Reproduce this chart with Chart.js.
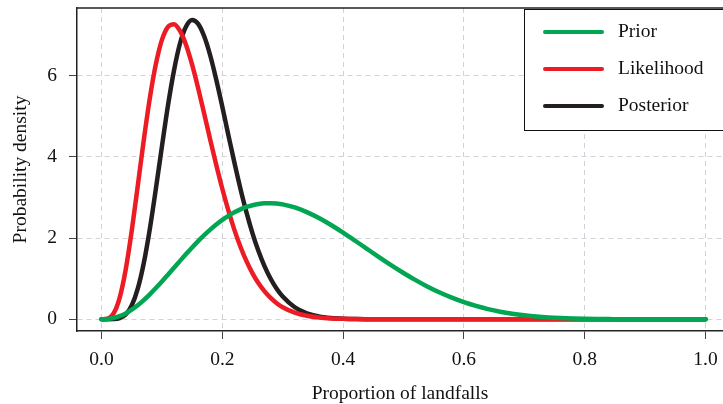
<!DOCTYPE html>
<html>
<head>
<meta charset="utf-8">
<script src="https://cdn.jsdelivr.net/npm/chart.js@4/dist/chart.umd.min.js"></script>
<style>
  html, body { margin: 0; padding: 0; background: #fff; }
  #wrap { width: 723px; height: 404px; position: relative; }
</style>
</head>
<body>
<div id="wrap"><canvas id="densityChart"></canvas></div>
<script>
'use strict';

// proportion of landfalls (x positions of the curves)
var proportions = [
  0.00, 0.01, 0.02, 0.03, 0.04, 0.05, 0.06, 0.07, 0.08, 0.09,
  0.10, 0.11, 0.12, 0.13, 0.14, 0.15, 0.16, 0.17, 0.18, 0.19,
  0.20, 0.21, 0.22, 0.23, 0.24, 0.25, 0.26, 0.27, 0.28, 0.29,
  0.30, 0.32, 0.34, 0.36, 0.38, 0.40, 0.42, 0.44, 0.46, 0.48,
  0.50, 0.52, 0.54, 0.56, 0.58, 0.60, 0.62, 0.64, 0.66, 0.68,
  0.70, 0.72, 0.74, 0.76, 0.78, 0.80, 0.82, 0.84, 0.86, 0.88,
  0.90, 0.92, 0.94, 0.96, 0.98, 1.00
];

var prior = [
  0, 0.005, 0.029, 0.075, 0.143, 0.234, 0.344, 0.472, 0.614, 0.768,
  0.930, 1.098, 1.268, 1.438, 1.605, 1.768, 1.924, 2.071, 2.208, 2.334,
  2.448, 2.548, 2.635, 2.707, 2.766, 2.810, 2.841, 2.858, 2.861, 2.852,
  2.831, 2.756, 2.641, 2.494, 2.323, 2.134, 1.934, 1.729, 1.526, 1.328,
  1.140, 0.964, 0.803, 0.659, 0.532, 0.421, 0.328, 0.250, 0.186, 0.135,
  0.096, 0.065, 0.043, 0.028, 0.017, 0.010, 0.005, 0.003, 0.001, 0,
  0, 0, 0, 0, 0, 0
];

var likelihood = [
  0, 0.012, 0.142, 0.527, 1.220, 2.178, 3.287, 4.419, 5.450, 6.288,
  6.884, 7.207, 7.272, 7.106, 6.760, 6.273, 5.693, 5.063, 4.424, 3.801,
  3.215, 2.680, 2.203, 1.787, 1.431, 1.132, 0.885, 0.685, 0.524, 0.396,
  0.296, 0.161, 0.084, 0.042, 0.020, 0.009, 0.004, 0.002, 0.001, 0,
  0, 0, 0, 0, 0, 0, 0, 0, 0, 0,
  0, 0, 0, 0, 0, 0, 0, 0, 0, 0,
  0, 0, 0, 0, 0, 0
];

var posterior = [
  0, 0, 0.003, 0.026, 0.116, 0.339, 0.753, 1.387, 2.228, 3.215,
  4.257, 5.264, 6.131, 6.801, 7.215, 7.374, 7.281, 6.973, 6.499, 5.902,
  5.236, 4.542, 3.860, 3.217, 2.632, 2.117, 1.673, 1.302, 0.997, 0.751,
  0.558, 0.295, 0.147, 0.069, 0.031, 0.013, 0.005, 0.002, 0.001, 0,
  0, 0, 0, 0, 0, 0, 0, 0, 0, 0,
  0, 0, 0, 0, 0, 0, 0, 0, 0, 0,
  0, 0, 0, 0, 0, 0
];

var seriesNames = ['Prior', 'Likelihood', 'Posterior'];
var seriesColors = ['#00A651', '#ED1C24', '#231F20'];

var xTicks = [0, 0.2, 0.4, 0.6, 0.8, 1.0];
var yTicks = [0, 2, 4, 6];

var serif = "'Liberation Serif', 'DejaVu Serif', serif";
var textFont = { family: serif, size: 19.5 };

var toPoints = function(ys) {
  return proportions.map(function(x, i) { return { x: x, y: ys[i] }; });
};

var makeSet = function(i, ys) {
  return {
    label: seriesNames[i],
    data: toPoints(ys),
    borderColor: seriesColors[i],
    borderWidth: 4.5,
    pointRadius: 0,
    cubicInterpolationMode: 'monotone',
    borderCapStyle: 'round',
    borderJoinStyle: 'round',
    fill: false
  };
};

// top edge of the box and the legend, R style
var framePlugin = {
  id: 'frame',
  afterDraw: function(chart) {
    var ctx = chart.ctx;
    var area = chart.chartArea;
    ctx.save();
    ctx.strokeStyle = '#222';
    ctx.lineWidth = 1.5;
    ctx.beginPath();
    ctx.moveTo(area.left, area.top);
    ctx.lineTo(area.right, area.top);
    ctx.stroke();

    var left = area.right - 199;
    var top = area.top + 1;
    ctx.fillStyle = '#fff';
    ctx.fillRect(left, top, 220, 121);
    ctx.strokeStyle = '#111';
    ctx.lineWidth = 1;
    ctx.strokeRect(left + 0.5, top + 0.5, 220, 121);

    ctx.font = textFont.size + 'px ' + serif;
    ctx.textBaseline = 'middle';
    ctx.textAlign = 'left';
    for (var i = 0; i < seriesNames.length; i++) {
      var y = top + 23 + i * 37;
      ctx.strokeStyle = seriesColors[i];
      ctx.lineWidth = 4;
      ctx.lineCap = 'round';
      ctx.beginPath();
      ctx.moveTo(left + 21, y);
      ctx.lineTo(left + 78, y);
      ctx.stroke();
      ctx.fillStyle = '#111';
      ctx.fillText(seriesNames[i], left + 94, y);
    }
    ctx.restore();
  }
};

var gridColor = '#d2d3da';

new Chart(document.getElementById('densityChart').getContext('2d'), {
  type: 'line',
  data: {
    datasets: [makeSet(0, prior), makeSet(1, likelihood), makeSet(2, posterior)]
  },
  options: {
    responsive: true,
    maintainAspectRatio: false,
    animation: false,
    devicePixelRatio: 1,
    layout: { padding: { top: 8, right: 0, bottom: 0, left: 0 } },
    plugins: {
      legend: { display: false },
      tooltip: { enabled: false }
    },
    scales: {
      x: {
        type: 'linear',
        min: -0.0406,
        max: 1.029,
        afterBuildTicks: function(s) {
          s.ticks = xTicks.map(function(v) { return { value: v }; });
        },
        afterFit: function(s) {
          s.height = 73;
          s.paddingLeft = 0;
          s.paddingRight = 0;
        },
        grid: { color: gridColor, lineWidth: 1, tickLength: 8, tickColor: '#444', tickWidth: 1 },
        border: { display: true, color: '#222', width: 1.5, dash: [5, 4] },
        ticks: {
          padding: 9,
          color: '#111',
          font: textFont,
          maxRotation: 0,
          callback: function(v) { return v.toFixed(1); }
        },
        title: {
          display: true,
          text: 'Proportion of landfalls',
          color: '#111',
          font: { family: serif, size: 19.5, lineHeight: 1.0 },
          padding: { top: 0, bottom: 0 }
        }
      },
      y: {
        type: 'linear',
        min: -0.29,
        max: 7.67,
        afterBuildTicks: function(s) {
          s.ticks = yTicks.map(function(v) { return { value: v }; });
        },
        afterFit: function(s) {
          s.width = 77;
          s.paddingTop = 0;
          s.paddingBottom = 0;
        },
        grid: { color: gridColor, lineWidth: 1, tickLength: 8, tickColor: '#444', tickWidth: 1 },
        border: { display: true, color: '#222', width: 1.5, dash: [5, 4] },
        ticks: {
          padding: 12,
          color: '#111',
          font: textFont,
          callback: function(v) { return String(v); }
        },
        title: {
          display: true,
          text: 'Probability density',
          color: '#111',
          font: textFont,
          padding: { top: 9, bottom: 0 }
        }
      }
    }
  },
  plugins: [framePlugin]
});
</script>
</body>
</html>
